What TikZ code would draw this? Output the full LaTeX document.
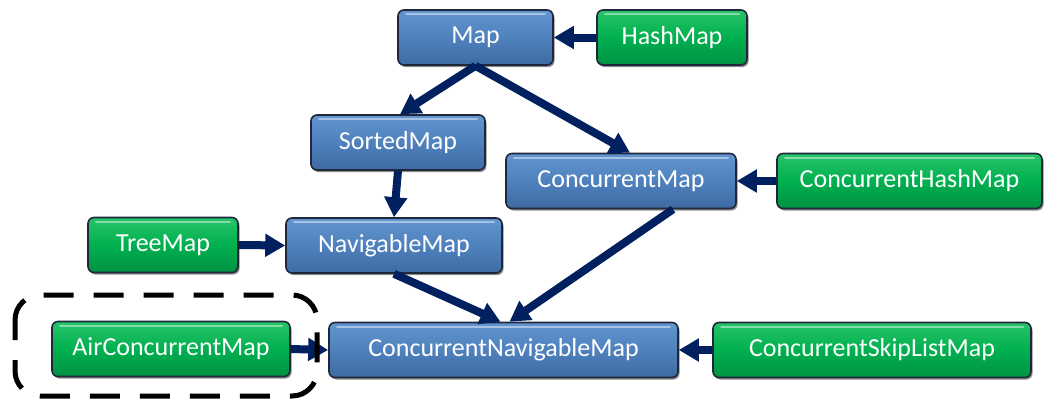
\documentclass[tikz,border=0pt]{standalone}
\usepackage{fontspec}
\setmainfont{Carlito}
\usetikzlibrary{arrows.meta,shadows}
\definecolor{navy}{RGB}{0,32,96}
\definecolor{boxedge}{RGB}{30,40,58}
\definecolor{bmid}{RGB}{79,129,189}
\definecolor{btop}{RGB}{98,148,208}
\definecolor{bbot}{RGB}{62,106,162}
\definecolor{gmid}{RGB}{0,176,80}
\definecolor{gtop}{RGB}{40,196,104}
\definecolor{gbot}{RGB}{0,146,66}
\begin{document}
\begin{tikzpicture}[x=1pt,y=-1pt,
  box/.style={rounded corners=6pt, draw=boxedge, line width=1.6pt,
    minimum height=55pt, inner sep=0pt, text=white,
    font=\fontsize{26}{30}\selectfont,
    drop shadow={shadow xshift=1.5pt, shadow yshift=-2pt, opacity=0.45, fill=black},
    path picture={\draw[white, opacity=0.45, line width=2pt, line cap=round]
      ([xshift=8pt,yshift=-4pt]path picture bounding box.north west) --
      ([xshift=-8pt,yshift=-4pt]path picture bounding box.north east);}},
  bluebox/.style={box, top color=btop, bottom color=bbot, middle color=bmid},
  greenbox/.style={box, top color=gtop, bottom color=gbot, middle color=gmid},
  conn/.style={draw=navy, line width=8pt, -{Triangle[length=20pt,width=22pt]}},
  dashbox/.style={draw=black, line width=5pt, rounded corners=25pt, dash pattern=on 30pt off 20pt, dash phase=10pt}
]
\useasboundingbox (0,0) rectangle (1050,400);
\node[bluebox, minimum width=155pt] (map) at (475.5,37.5) {Map};
\node[greenbox, minimum width=150pt] (hash) at (672,37.5) {HashMap};
\node[bluebox, minimum width=174pt] (sorted) at (398,142.5) {SortedMap};
\node[bluebox, minimum width=230pt] (cmap) at (621,181) {ConcurrentMap};
\node[greenbox, minimum width=265pt] (chm) at (909.5,181) {ConcurrentHashMap};
\node[greenbox, minimum width=150pt] (tree) at (163,245) {TreeMap};
\node[bluebox, minimum width=216pt] (nav) at (394,245.5) {NavigableMap};
\node[greenbox, minimum width=238pt] (air) at (171,349) {AirConcurrentMap};
\node[bluebox, minimum width=349pt] (cnm) at (503.5,350) {ConcurrentNavigableMap};
\node[greenbox, minimum width=318pt] (cslm) at (872,350) {ConcurrentSkipListMap};

\draw[conn] (hash.west) -- (map.east);
\draw[conn] (map.south) -- ([xshift=2pt]sorted.north);
\draw[conn] (map.south) -- ([xshift=9pt]cmap.north);
\draw[conn] (sorted.south) -- (nav.north);
\draw[conn] (chm.west) -- (cmap.east);
\draw[conn] (tree.east) -- (nav.west);
\draw[conn] (nav.south) -- ([xshift=-3pt]cnm.north);
\draw[conn] ([xshift=52pt]cmap.south) -- ([xshift=6pt]cnm.north);
\draw[conn] (cslm.west) -- (cnm.east);
\draw[conn] (air.east) -- (cnm.west);

\coordinate (dbA) at (15,295);
\coordinate (dbB) at (317,396);
\draw[dashbox] (dbA) rectangle (dbB);
\end{tikzpicture}
\end{document}
